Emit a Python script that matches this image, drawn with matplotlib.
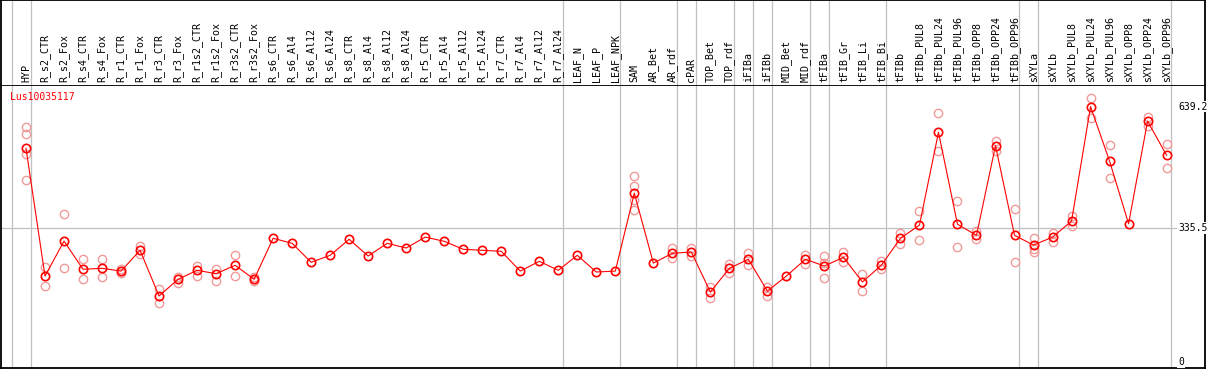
import matplotlib.pyplot as plt
import numpy as np

# Probenamen (eine Spalte pro Probe)
samples = ["HYP",
           "R_s2_CTR", "R_s2_Fox", "R_s4_CTR", "R_s4_Fox", "R_r1_CTR", "R_r1_Fox",
           "R_r3_CTR", "R_r3_Fox", "R_r1s2_CTR", "R_r1s2_Fox", "R_r3s2_CTR", "R_r3s2_Fox",
           "R_s6_CTR", "R_s6_Al4", "R_s6_Al12", "R_s6_Al24", "R_s8_CTR", "R_s8_Al4",
           "R_s8_Al12", "R_s8_Al24", "R_r5_CTR", "R_r5_Al4", "R_r5_Al12", "R_r5_Al24",
           "R_r7_CTR", "R_r7_Al4", "R_r7_Al12", "R_r7_Al24",
           "LEAF_N", "LEAF_P", "LEAF_NPK",
           "SAM", "AR_Bet", "AR_rdf",
           "cPAR",
           "TOP_Bet", "TOP_rdf",
           "iFIBa",
           "iFIBb",
           "MID_Bet", "MID_rdf",
           "tFIBa",
           "tFIB_Gr", "tFIB_Li", "tFIB_Bi",
           "tFIBb", "tFIBb_PUL8", "tFIBb_PUL24", "tFIBb_PUL96", "tFIBb_OPP8",
           "tFIBb_OPP24", "tFIBb_OPP96",
           "sXYLa",
           "sXYLb", "sXYLb_PUL8", "sXYLb_PUL24", "sXYLb_PUL96", "sXYLb_OPP8",
           "sXYLb_OPP24", "sXYLb_OPP96"]

# Gruppengroessen (Trennlinien)
group_sizes = [1, 28, 3, 3, 1, 2, 1, 1, 2, 1, 3, 7, 1, 7]

# Mittelwerte
means = [535,
         215.5, 303, 232.5, 235, 228, 280, 165.7, 207.5, 230, 221.5, 242.5, 207.5,
         310, 297.5, 250, 267.5, 307.5, 265.7, 297.5, 285.7, 313, 302.5, 282.5, 280,
         277.5, 228, 252.5, 230,
         267.5, 225.7, 228,
         423, 248, 272.5,
         275.7,
         175.7, 235,
         257.5,
         178,
         215.7, 257.5,
         240.7,
         262.5, 200.7, 243,
         310, 343, 575, 345, 317.5, 541.5, 317.5,
         293,
         313, 353, 639.2, 503, 346.5, 603, 517.5]

# Einzelwerte (Replikate)
reps = [[589, 572, 522, 457],
        [239, 191.5], [370, 235], [257.5, 207.5], [257.5, 212.5], [233, 224], [291.5, 270],
        [182.5, 147.5], [214, 199], [240.7, 216.5], [233, 204], [268, 216.5], [212.5, 204],
        [], [], [], [], [], [], [], [], [], [], [], [], [], [], [], [],
        [], [], [],
        [465.7, 440.7, 405.7, 380.7], [], [285, 260],
        [285, 266.5],
        [187.5, 160.7], [245.7, 224],
        [274, 243],
        [189, 166.5],
        [], [269, 245.7],
        [265.7, 247.5, 210],
        [275.7, 250.7], [220, 178], [254, 233],
        [324, 295.7], [378, 305.7], [622.5, 529], [403, 288], [327.5, 309], [554, 529], [383, 251.5],
        [311.5, 283, 276.5],
        [324, 300], [365.7, 340.7], [660, 610], [543, 460], [], [613, 590], [546.5, 486.5]]

yticks = [0, 335.5, 639.2]
title = "Lus10035117"

W, H = 1209, 370
fig = plt.figure(figsize=(W / 100, H / 100), dpi=100)
mono = "DejaVu Sans Mono"

x = np.arange(len(samples))
xlim = (-1.315, 62.02)

# Hauptachse (Datenbereich)
ax = fig.add_axes([1 / W, 2 / H, 1204 / W, 283 / H])
ax.set_xlim(*xlim)
ax.set_ylim(-14.25, 693.25)
# Kopfzeile mit Probenamen
hx = fig.add_axes([1 / W, 285 / H, 1204 / W, 85 / H], sharex=ax)
hx.set_ylim(0, 1)

for a in (ax, hx):
    a.set_xticks([])
    a.set_yticks([])
    for s in a.spines.values():
        s.set_color("black")
        s.set_linewidth(1.3)
hx.spines["bottom"].set_visible(False)

# Trennlinien
bounds = np.cumsum([0] + group_sizes) - 0.75
for b in bounds:
    ax.axvline(b, color="#c0c0c0", lw=0.9, zorder=1)
    hx.axvline(b, color="#c0c0c0", lw=0.9, zorder=1)

ax.axhline(yticks[1], color="#c0c0c0", lw=0.9, zorder=1)

# Replikate
for i, r in enumerate(reps):
    if r:
        ax.plot([i] * len(r), r, linestyle="none", marker="o", ms=6, mfc="none",
                mec="#f09a9a", mew=1.0, zorder=2)

# Mittelwerte
ax.plot(x, means, color="red", lw=0.8, marker="o", ms=6, mfc="none",
        mec="red", mew=1.2, zorder=3)

# Probenamen
for i, name in enumerate(samples):
    hx.text(i, 0.03, name, rotation=90, ha="center", va="bottom",
            fontsize=7.2, family=mono, color="black")

# Achsenbeschriftung rechts
for t in yticks:
    ax.text(0.9776, t, f"{t:g}", transform=ax.get_yaxis_transform(),
            ha="left", va="center", fontsize=7, family=mono,
            bbox=dict(facecolor="white", edgecolor="none", pad=0.5), zorder=4)

ax.text(0.0075, 0.958, title, transform=ax.transAxes, ha="left", va="center",
        fontsize=7, family=mono, color="red")

fig.savefig("out.png", dpi=100)
